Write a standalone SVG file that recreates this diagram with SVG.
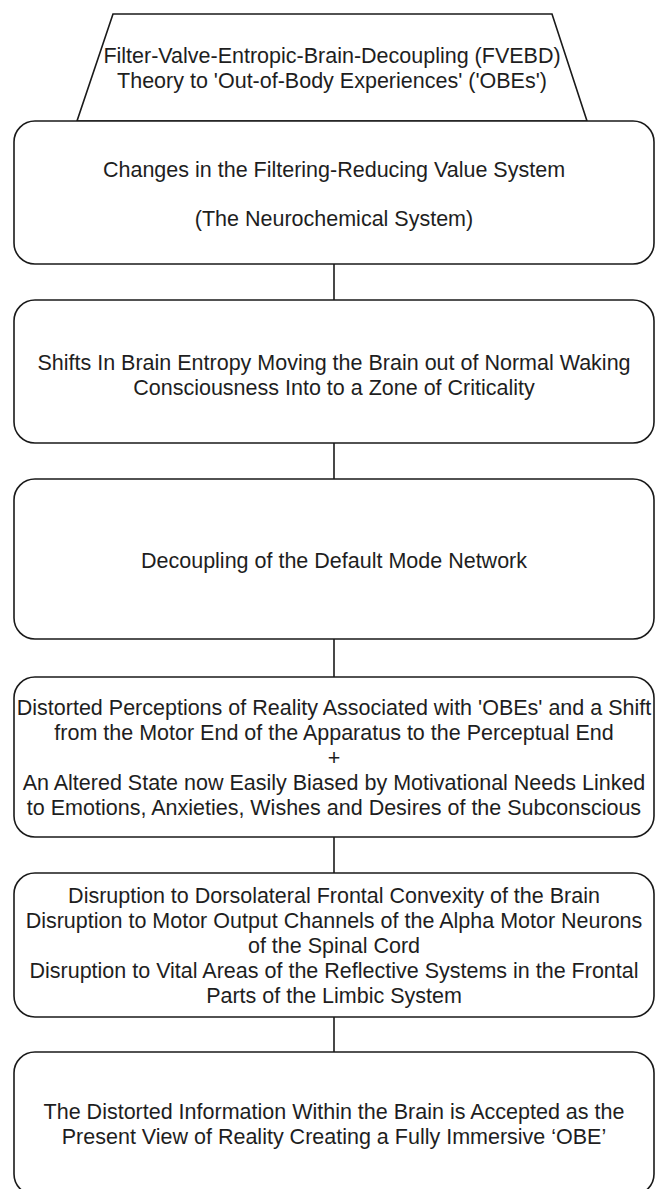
<svg xmlns="http://www.w3.org/2000/svg" width="656" height="1189" viewBox="0 0 656 1189">
  <style>
    .shape { fill: #ffffff; stroke: #1a1a1a; stroke-width: 1.6; }
    .link { stroke: #1a1a1a; stroke-width: 1.6; fill: none; }
    text { font-family: "Liberation Sans", Arial, Helvetica, sans-serif; font-size: 21.5px; fill: #1e1e1e; text-anchor: middle; }
  </style>
  <rect x="0" y="0" width="656" height="1189" fill="#ffffff"/>

  <!-- connectors between consecutive steps -->
  <g id="connectors">
    <line class="link" x1="334" y1="264" x2="334" y2="300"/>
    <line class="link" x1="334" y1="443" x2="334" y2="479"/>
    <line class="link" x1="334" y1="639" x2="334" y2="677"/>
    <line class="link" x1="334" y1="837" x2="334" y2="873"/>
    <line class="link" x1="334" y1="1017" x2="334" y2="1052"/>
  </g>

  <!-- title trapezoid -->
  <g id="title">
    <polygon class="shape" points="113,14 552,14 587,121 77,121"/>
    <text x="332" y="63">Filter-Valve-Entropic-Brain-Decoupling (FVEBD)</text>
    <text x="332" y="88">Theory to 'Out-of-Body Experiences' ('OBEs')</text>
  </g>

  <g id="step1">
    <rect class="shape" x="14" y="121" width="640" height="143" rx="21" ry="21"/>
    <text x="334" y="176.5">Changes in the Filtering-Reducing Value System</text>
    <text x="334" y="225.5">(The Neurochemical System)</text>
  </g>

  <g id="step2">
    <rect class="shape" x="14" y="300" width="640" height="143" rx="21" ry="21"/>
    <text x="334" y="369.5">Shifts In Brain Entropy Moving the Brain out of Normal Waking</text>
    <text x="334" y="394.5">Consciousness Into to a Zone of Criticality</text>
  </g>

  <g id="step3">
    <rect class="shape" x="14" y="479" width="640" height="160" rx="21" ry="21"/>
    <text x="334" y="568">Decoupling of the Default Mode Network</text>
  </g>

  <g id="step4">
    <rect class="shape" x="14" y="677" width="640" height="160" rx="21" ry="21"/>
    <text x="334" y="714.5">Distorted Perceptions of Reality Associated with 'OBEs' and a Shift</text>
    <text x="334" y="739.5">from the Motor End of the Apparatus to the Perceptual End</text>
    <text x="334" y="764.5">+</text>
    <text x="334" y="789.5">An Altered State now Easily Biased by Motivational Needs Linked</text>
    <text x="334" y="814.5">to Emotions, Anxieties, Wishes and Desires of the Subconscious</text>
  </g>

  <g id="step5">
    <rect class="shape" x="14" y="873" width="640" height="144" rx="21" ry="21"/>
    <text x="334" y="902.5">Disruption to Dorsolateral Frontal Convexity of the Brain</text>
    <text x="334" y="927.5">Disruption to Motor Output Channels of the Alpha Motor Neurons</text>
    <text x="334" y="952.5">of the Spinal Cord</text>
    <text x="334" y="977.5">Disruption to Vital Areas of the Reflective Systems in the Frontal</text>
    <text x="334" y="1002.5">Parts of the Limbic System</text>
  </g>

  <g id="step6">
    <rect class="shape" x="14" y="1052" width="640" height="143" rx="21" ry="21"/>
    <text x="334" y="1119">The Distorted Information Within the Brain is Accepted as the</text>
    <text x="334" y="1144">Present View of Reality Creating a Fully Immersive ‘OBE’</text>
  </g>
</svg>
